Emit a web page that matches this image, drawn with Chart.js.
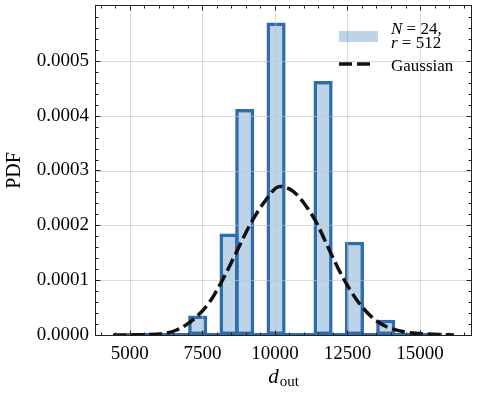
<!DOCTYPE html>
<html>
<head>
<meta charset="utf-8">
<script src="https://cdn.jsdelivr.net/npm/chart.js@4/dist/chart.umd.min.js"></script>
<style>
  html, body { margin: 0; padding: 0; background: #fff; }
  #wrap { width: 479px; height: 395px; }
</style>
</head>
<body>
<div id="wrap"><canvas id="chart"></canvas></div>
<script>
// histogram: bin centres (bins are 540 wide) and density per bin
const binCenters = [5179, 5719, 6259, 6799, 7339, 7879, 8419, 8959, 9499, 10039,
                    10579, 11119, 11659, 12199, 12739, 13279, 13819, 14359, 14899, 15439];
const binPdf = [0, 0, 0, 0, 0.0000355, 0, 0.000185, 0.000412, 0, 0.00057,
                0, 0, 0.000463, 0, 0.00017, 0, 0.000028, 0, 0, 0];

// points
const gaussX = [4420, 5920, 6610, 7240, 7760, 8220, 8680, 9140, 9600, 10170,
                10630, 11090, 11440, 11900, 12360, 12820, 13330, 13850, 14540, 15460, 16170];
const gaussY = [0, 0.0000013, 0.0000091, 0.0000305, 0.000061, 0.000103, 0.000152, 0.000201, 0.00024, 0.000271,
                0.000262, 0.000234, 0.000204, 0.000152, 0.000103, 0.000064, 0.000033, 0.000015, 0.000005, 0.0000013, 0];

const xTicks = [5000, 7500, 10000, 12500, 15000];
const xTickLabels = ['5000', '7500', '10000', '12500', '15000'];
const yTicks = [0, 0.0001, 0.0002, 0.0003, 0.0004, 0.0005];
const yTickLabels = ['0.0000', '0.0001', '0.0002', '0.0003', '0.0004', '0.0005'];

const SERIF = '"Liberation Serif", "Times New Roman", serif';
const fillBlue = 'rgba(12, 93, 165, 0.27)';
const edgeBlue = '#2e6cad';

const decor = {
  id: 'decor',
  // grid goes over the bars but under the gaussian line
  afterDatasetDraw(chart, args) {
    if (args.meta.type !== 'bar') return;
    const { ctx, chartArea: a, scales: { x, y } } = chart;
    ctx.save();
    ctx.strokeStyle = 'rgba(195,195,195,0.6)';
    ctx.lineWidth = 1;
    ctx.beginPath();
    xTicks.forEach(v => {
      const px = Math.round(x.getPixelForValue(v)) + 0.5;
      ctx.moveTo(px, a.top); ctx.lineTo(px, a.bottom);
    });
    yTicks.forEach(v => {
      const py = Math.round(y.getPixelForValue(v)) + 0.5;
      ctx.moveTo(a.left, py); ctx.lineTo(a.right, py);
    });
    ctx.stroke();
    ctx.restore();
  },
  afterDraw(chart) {
    const { ctx, chartArea: a, scales: { x, y } } = chart;
    ctx.save();
    // frame
    ctx.strokeStyle = '#222';
    ctx.lineWidth = 1;
    const L = Math.round(a.left) - 0.5, R = Math.round(a.right) + 0.5;
    const T = Math.round(a.top) - 0.5, B = Math.round(a.bottom) + 0.5;
    ctx.strokeRect(L, T, R - L, B - T);

    // inward ticks on all four sides
    ctx.beginPath();
    for (let v = 4000; v <= 16500; v += 500) {
      const len = v % 2500 === 0 ? 5 : 3;
      const px = Math.round(x.getPixelForValue(v)) + 0.5;
      ctx.moveTo(px, B); ctx.lineTo(px, B - len);
      ctx.moveTo(px, T); ctx.lineTo(px, T + len);
    }
    for (let k = 1; k < 30; k++) {
      const len = k % 5 === 0 ? 5 : 3;
      const py = Math.round(y.getPixelForValue(k * 0.00002)) + 0.5;
      ctx.moveTo(L, py); ctx.lineTo(L + len, py);
      ctx.moveTo(R, py); ctx.lineTo(R - len, py);
    }
    ctx.stroke();

    // axis titles
    ctx.fillStyle = '#000';
    ctx.textBaseline = 'alphabetic';
    ctx.save();
    ctx.translate(20, (a.top + a.bottom) / 2);
    ctx.rotate(-Math.PI / 2);
    ctx.textAlign = 'center';
    ctx.font = '20px ' + SERIF;
    ctx.fillText('PDF', 0, 0);
    ctx.restore();

    ctx.textAlign = 'left';
    ctx.font = 'italic 21px ' + SERIF;
    const wd = ctx.measureText('d').width;
    ctx.font = '15px ' + SERIF;
    const wo = ctx.measureText('out').width;
    const x0 = (a.left + a.right) / 2 - (wd + wo + 1) / 2;
    ctx.font = 'italic 21px ' + SERIF;
    ctx.fillText('d', x0, 383);
    ctx.font = '15px ' + SERIF;
    ctx.fillText('out', x0 + wd + 1, 386);

    // legend
    ctx.fillStyle = fillBlue;
    ctx.fillRect(339, 31, 39, 11);
    const mathLine = (sym, rest, yb) => {
      ctx.fillStyle = '#000';
      ctx.font = 'italic 17px ' + SERIF;
      ctx.fillText(sym, 391, yb);
      const w = ctx.measureText(sym).width;
      ctx.font = '17px ' + SERIF;
      ctx.fillText(rest, 391 + w, yb);
    };
    mathLine('N', ' = 24,', 34);
    mathLine('r', ' = 512', 48);
    ctx.strokeStyle = '#111';
    ctx.lineWidth = 3.5;
    ctx.setLineDash([13, 5]);
    ctx.beginPath();
    ctx.moveTo(339, 64); ctx.lineTo(375, 64);
    ctx.stroke();
    ctx.setLineDash([]);
    ctx.font = '17px ' + SERIF;
    ctx.fillStyle = '#000';
    ctx.fillText('Gaussian', 391, 71);
    ctx.restore();
  }
};

const tickFont = { family: SERIF, size: 19 };

new Chart(document.getElementById('chart'), {
  type: 'bar',
  data: {
    datasets: [
      {
        type: 'bar',
        label: 'N = 24, r = 512',
        data: binCenters.map((c, i) => ({ x: c, y: binPdf[i] })),
        backgroundColor: fillBlue,
        borderColor: edgeBlue,
        borderWidth: 3.5,
        borderSkipped: false,
        barPercentage: 1.22,
        categoryPercentage: 1,
        minBarLength: 2,
        order: 2
      },
      {
        type: 'line',
        label: 'Gaussian',
        data: gaussX.map((v, i) => ({ x: v, y: gaussY[i] })),
        borderColor: '#111',
        borderWidth: 3.5,
        borderDash: [13, 5],
        pointRadius: 0,
        fill: false,
        cubicInterpolationMode: 'monotone',
        order: 1
      }
    ]
  },
  options: {
    responsive: true,
    maintainAspectRatio: false,
    animation: false,
    layout: { padding: { top: 6, right: 8, left: 0, bottom: 0 } },
    plugins: { legend: { display: false }, tooltip: { enabled: false } },
    scales: {
      x: {
        type: 'linear',
        min: 3833,
        max: 16757,
        offset: false,
        grid: { display: false, drawTicks: false },
        border: { display: false },
        afterBuildTicks: s => { s.ticks = xTicks.map(v => ({ value: v })); },
        afterFit: s => { s.height = 60; s.paddingLeft = 0; s.paddingRight = 0; },
        ticks: {
          padding: 8, maxRotation: 0, autoSkip: false,
          font: tickFont, color: '#000',
          callback: (v, i) => xTickLabels[i]
        }
      },
      y: {
        type: 'linear',
        min: 0,
        max: 0.0006,
        grid: { display: false, drawTicks: false },
        border: { display: false },
        afterBuildTicks: s => { s.ticks = yTicks.map(v => ({ value: v })); },
        afterFit: s => { s.width = 96; s.paddingTop = 0; s.paddingBottom = 0; },
        ticks: {
          padding: 7, autoSkip: false,
          font: tickFont, color: '#000',
          callback: (v, i) => yTickLabels[i]
        }
      }
    }
  },
  plugins: [decor]
});
</script>
</body>
</html>
